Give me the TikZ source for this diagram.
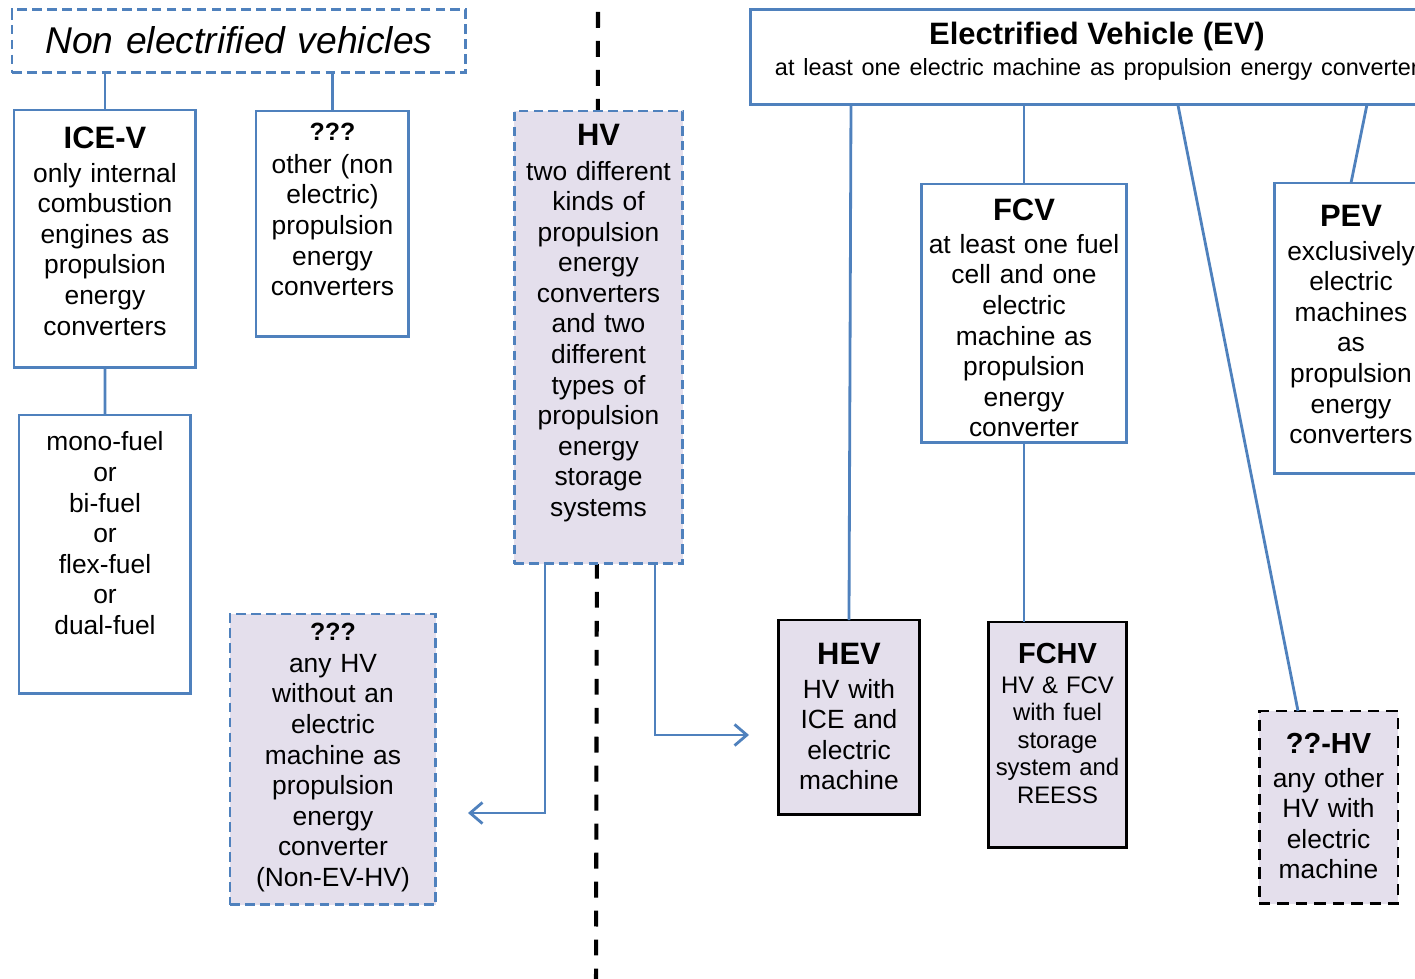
\documentclass[tikz,border=0pt]{standalone}
\usepackage{fontspec}
\setmainfont{Liberation Sans}
\usetikzlibrary{arrows.meta}

\definecolor{lineblue}{HTML}{4F81BD}
\definecolor{hvfill}{HTML}{E4DFEC}
\newcommand\boxtitle[2][17.6]{{\fontsize{#1}{20}\selectfont\bfseries #2}}

\begin{document}
\begin{tikzpicture}[x=0.02cm, y=-0.02cm,
  box/.style={draw=lineblue, line width=1.7pt, anchor=north west, inner sep=0pt, outer sep=0pt,
    align=center, font=\fontsize{15}{17.4}\selectfont},
  dashbox/.style={box, fill=hvfill, dash pattern=on 5.5pt off 3pt},
  hybox/.style={box, draw=black, line width=1.7pt, fill=hvfill},
  link/.style={draw=lineblue, line width=1.6pt},
  arrow/.style={link, -{Straight Barb[length=7pt,width=12pt]}},
  sepline/.style={black, line width=2.3pt, dash pattern=on 9pt off 7.5pt}]
\useasboundingbox (0,0) rectangle (1415,979);

% border between non electrified and electrified
\draw[sepline] (598,12) -- (596,979);

% non electrified side
\node[box, dash pattern=on 5.5pt off 3pt, text width=9.08cm, text height=0.88cm, text depth=0.38cm,
  font=\fontsize{21.2}{25}\selectfont\itshape] (nonev) at (12,10) {Non electrified vehicles};
\node[box, text width=3.64cm, text height=0.78cm, text depth=4.38cm] (icev) at (14,110)
  {\boxtitle{ICE-V}\\[1.5pt]only internal\\combustion\\engines as\\propulsion\\energy\\converters};
\node[box, text width=3.06cm, text height=0.60cm, text depth=3.92cm] (other) at (256,111)
  {\boxtitle[14.2]{???}\\[1pt]other (non\\electric)\\propulsion\\energy\\converters};
\node[box, text width=3.44cm, text height=0.72cm, text depth=4.86cm] (fuel) at (19,415)
  {mono-fuel\\or\\bi-fuel\\or\\flex-fuel\\or\\dual-fuel};
\node[dashbox, text width=3.38cm, text height=0.70cm, text depth=8.36cm] (hv) at (514,111)
  {\boxtitle{HV}\\[2pt]two different\\kinds of\\propulsion\\energy\\converters\\and two\\different\\types of\\propulsion\\energy\\storage\\systems};
\node[dashbox, text width=4.12cm, text height=0.52cm, text depth=5.30cm] (nonevhv) at (230,614)
  {\boxtitle[14.2]{???}\\[1pt]any HV\\without an\\electric\\machine as\\propulsion\\energy\\converter\\(Non-EV-HV)};

% electrified side
\node[box, text width=13.88cm, text height=0.70cm, text depth=1.20cm] (ev) at (750,10)
  {\boxtitle{Electrified Vehicle (EV)}\\ \fontsize{13.35}{16.5}\selectfont at least one electric machine as propulsion energy converter};
\node[box, text width=4.12cm, text height=0.74cm, text depth=4.44cm] (fcv) at (921,184)
  {\boxtitle{FCV}\\[1pt]at least one fuel\\cell and one\\electric\\machine as\\propulsion\\energy\\converter};
\node[box, text width=3.08cm, text height=0.88cm, text depth=4.94cm] (pev) at (1274,183)
  {\boxtitle{PEV}\\[1.5pt]exclusively\\electric\\machines\\as\\propulsion\\energy\\converters};
\node[hybox, text width=2.84cm, text height=0.90cm, text depth=3.00cm] (hev) at (778,620)
  {\boxtitle{HEV}\\[1.5pt]HV with\\ICE and\\electric\\machine};
\node[hybox, text width=2.78cm, text height=0.84cm, text depth=3.68cm,
  font=\fontsize{13.6}{15.65}\selectfont] (fchv) at (988,622)
  {\boxtitle[16.5]{FCHV}\\[1pt]HV \& FCV\\with fuel\\storage\\system and\\REESS};
\node[hybox, dash pattern=on 6.5pt off 4pt, text width=2.78cm, text height=0.86cm, text depth=3.00cm] (qqhv) at (1259,711)
  {\boxtitle[16.5]{??-HV}\\[1.5pt]any other\\HV with\\electric\\machine};

% connectors
\draw[link] (icev.north) -- (icev.north |- nonev.south);
\draw[link] (other.north) -- (other.north |- nonev.south);
\draw[link] (icev) -- (fuel);
\draw[link] (fcv.north) -- (fcv.north |- ev.south);
\draw[link] (fcv.south) -- (fcv.south |- fchv.north);
\draw[link] ([xshift=2.02cm]ev.south west) -- (hev.north);
\draw[link] ([xshift=8.56cm]ev.south west) -- ([xshift=-0.61cm]qqhv.north);
\draw[link] ([xshift=12.34cm]ev.south west) -- (pev.north);

\coordinate (toleft) at (468,813);
\coordinate (toright) at (749,735);
\draw[arrow] ([xshift=-1.07cm]hv.south) |- (toleft);
\draw[arrow] ([xshift=1.13cm]hv.south) |- (toright);
\end{tikzpicture}
\end{document}
